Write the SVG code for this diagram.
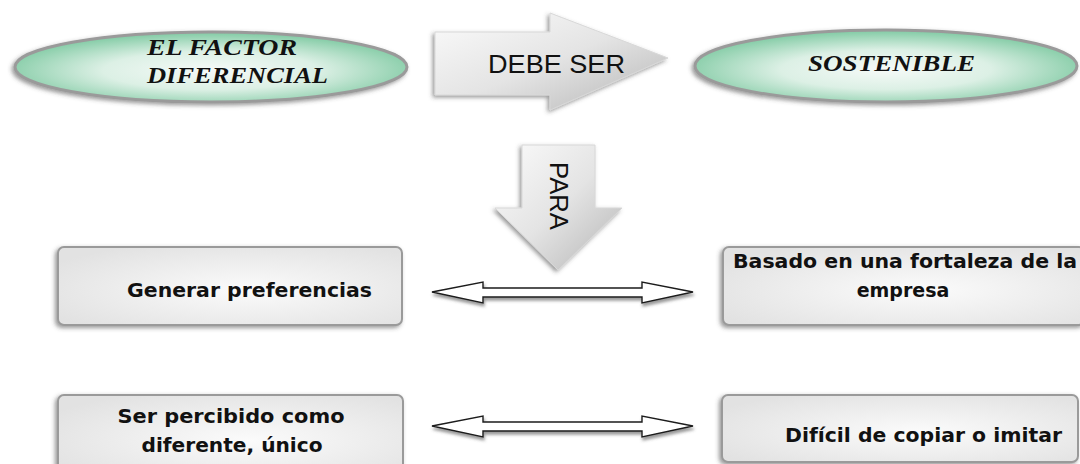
<svg xmlns="http://www.w3.org/2000/svg" width="1080" height="464" viewBox="0 0 1080 464">
<style>
.ell{fill:url(#gEll);stroke:#9a9a9a;stroke-width:3}
.et{font-family:"Liberation Serif","Times New Roman",serif;font-weight:bold;font-style:italic;font-size:23px;fill:#111}
.big{fill:url(#gArr);stroke:#d8d8d8;stroke-width:1}
.at{font-family:"Liberation Sans",Arial,sans-serif;font-size:25px;fill:#111}
.box{fill:url(#gBox);stroke:#9a9a9a;stroke-width:2}
.bt{font-family:"DejaVu Sans","Liberation Sans",sans-serif;font-weight:bold;font-size:19px;fill:#111}
.dbl{fill:#fff;stroke:#1a1a1a;stroke-width:1.4;stroke-linejoin:miter}
</style>
<defs>
<radialGradient id="gEll" cx="50%" cy="55%" r="55%">
<stop offset="0" stop-color="#f6faf8"/>
<stop offset="0.5" stop-color="#dcf0e5"/>
<stop offset="1" stop-color="#80caa3"/>
</radialGradient>
<linearGradient id="gArr" x1="0" y1="0" x2="1" y2="1">
<stop offset="0" stop-color="#fbfbfb"/>
<stop offset="0.5" stop-color="#e4e4e4"/>
<stop offset="1" stop-color="#b4b4b4"/>
</linearGradient>
<radialGradient id="gBox" cx="55%" cy="55%" r="65%">
<stop offset="0" stop-color="#fbfbfb"/>
<stop offset="1" stop-color="#e2e2e2"/>
</radialGradient>
<filter id="sh" x="-10%" y="-20%" width="120%" height="150%">
<feDropShadow dx="-2" dy="2" stdDeviation="2" flood-color="#444" flood-opacity="0.55"/>
</filter>
<filter id="sh2" x="-10%" y="-30%" width="120%" height="180%">
<feDropShadow dx="1" dy="3" stdDeviation="1.5" flood-color="#555" flood-opacity="0.6"/>
</filter>
</defs>

<g id="node-factor">
<ellipse class="ell" cx="211" cy="67" rx="196" ry="35" filter="url(#sh)"/>
<text class="et" x="147" y="55" textLength="150" lengthAdjust="spacingAndGlyphs">EL FACTOR</text>
<text class="et" x="147" y="83" textLength="181" lengthAdjust="spacingAndGlyphs">DIFERENCIAL</text>
</g>

<g id="node-sostenible">
<ellipse class="ell" cx="886" cy="66" rx="191" ry="36" filter="url(#sh)"/>
<text class="et" x="808" y="71" textLength="167" lengthAdjust="spacingAndGlyphs">SOSTENIBLE</text>
</g>

<g id="node-debe-ser">
<path class="big" d="M435,32 L550,32 L550,13 L668,58 L550,110 L550,95 L435,95 Z" filter="url(#sh)"/>
<text class="at" x="488" y="73" textLength="137" lengthAdjust="spacingAndGlyphs">DEBE SER</text>
</g>

<g id="node-para">
<path class="big" d="M522,145 L595,145 L595,208 L622,208 L558,270 L495,208 L522,208 Z" filter="url(#sh)"/>
<text class="at" transform="translate(558,196) rotate(90)" x="0" y="8" text-anchor="middle" textLength="68" lengthAdjust="spacingAndGlyphs">PARA</text>
</g>

<g id="node-generar">
<rect class="box" x="58" y="247" width="344" height="78" rx="6" filter="url(#sh)"/>
<text class="bt" x="127" y="297" textLength="245" lengthAdjust="spacingAndGlyphs">Generar preferencias</text>
</g>

<g id="node-basado">
<rect class="box" x="723" y="247" width="362" height="78" rx="6" filter="url(#sh)"/>
<text class="bt" x="905" y="268" text-anchor="middle" textLength="344" lengthAdjust="spacingAndGlyphs">Basado en una fortaleza de la</text>
<text class="bt" x="903" y="297" text-anchor="middle">empresa</text>
</g>

<g id="node-percibido">
<rect class="box" x="58" y="395" width="345" height="82" rx="6" filter="url(#sh)"/>
<text class="bt" x="231" y="423" text-anchor="middle" textLength="227" lengthAdjust="spacingAndGlyphs">Ser percibido como</text>
<text class="bt" x="232" y="452" text-anchor="middle" textLength="181" lengthAdjust="spacingAndGlyphs">diferente, único</text>
</g>

<g id="node-dificil">
<rect class="box" x="722" y="395" width="356" height="67" rx="6" filter="url(#sh)"/>
<text class="bt" x="785" y="442" textLength="277" lengthAdjust="spacingAndGlyphs">Difícil de copiar o imitar</text>
</g>

<g id="connectors">
<path class="dbl" d="M432,292 L483,282 L483,288 L642,288 L642,282 L693,292 L642,303 L642,297 L483,297 L483,303 Z" filter="url(#sh2)"/>
<path class="dbl" d="M432,426 L483,416 L483,422 L642,422 L642,416 L693,426 L642,437 L642,431 L483,431 L483,437 Z" filter="url(#sh2)"/>
</g>
</svg>
